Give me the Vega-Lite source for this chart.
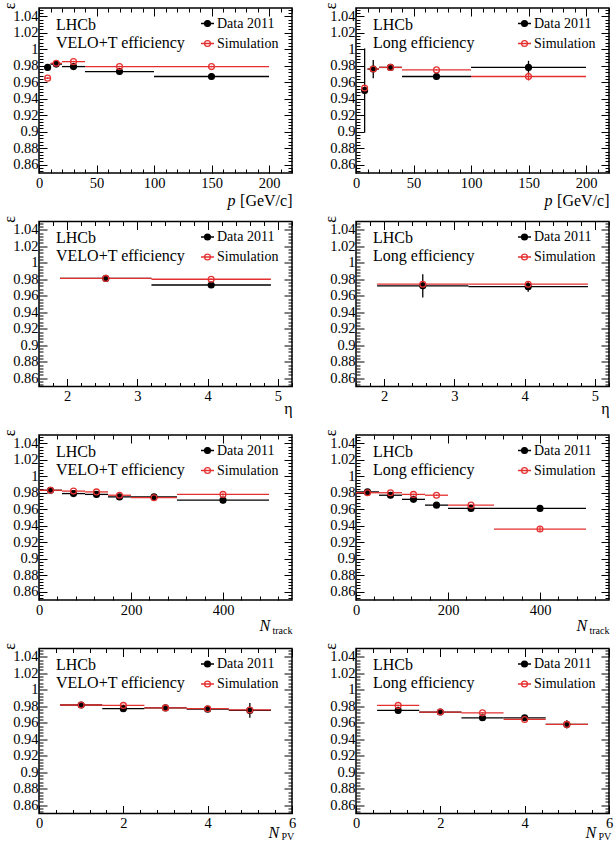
{
  "$schema": "https://vega.github.io/schema/vega-lite/v6.json",
  "padding": {"left": 0, "top": 0, "right": 0, "bottom": 0},
  "background": "white",
  "data": {"values": [
    {"panel": 1, "series": "Data 2011", "x": 7.5, "xlo": 5, "xhi": 10, "y": 0.978, "ylo": 0.976, "yhi": 0.980},
    {"panel": 1, "series": "Data 2011", "x": 15, "xlo": 10, "xhi": 20, "y": 0.982, "ylo": 0.981, "yhi": 0.983},
    {"panel": 1, "series": "Data 2011", "x": 30, "xlo": 20, "xhi": 40, "y": 0.979, "ylo": 0.978, "yhi": 0.980},
    {"panel": 1, "series": "Data 2011", "x": 70, "xlo": 40, "xhi": 100, "y": 0.973, "ylo": 0.972, "yhi": 0.974},
    {"panel": 1, "series": "Data 2011", "x": 150, "xlo": 100, "xhi": 200, "y": 0.967, "ylo": 0.966, "yhi": 0.968},
    {"panel": 1, "series": "Simulation", "x": 7.5, "xlo": 5, "xhi": 10, "y": 0.965, "ylo": 0.964, "yhi": 0.966},
    {"panel": 1, "series": "Simulation", "x": 15, "xlo": 10, "xhi": 20, "y": 0.983, "ylo": 0.982, "yhi": 0.984},
    {"panel": 1, "series": "Simulation", "x": 30, "xlo": 20, "xhi": 40, "y": 0.985, "ylo": 0.984, "yhi": 0.986},
    {"panel": 1, "series": "Simulation", "x": 70, "xlo": 40, "xhi": 100, "y": 0.979, "ylo": 0.978, "yhi": 0.980},
    {"panel": 1, "series": "Simulation", "x": 150, "xlo": 100, "xhi": 200, "y": 0.979, "ylo": 0.978, "yhi": 0.980},

    {"panel": 2, "series": "Data 2011", "x": 7.5, "xlo": 5, "xhi": 10, "y": 0.950, "ylo": 0.899, "yhi": 1.001},
    {"panel": 2, "series": "Data 2011", "x": 15, "xlo": 10, "xhi": 20, "y": 0.976, "ylo": 0.965, "yhi": 0.987},
    {"panel": 2, "series": "Data 2011", "x": 30, "xlo": 20, "xhi": 40, "y": 0.978, "ylo": 0.974, "yhi": 0.982},
    {"panel": 2, "series": "Data 2011", "x": 70, "xlo": 40, "xhi": 100, "y": 0.967, "ylo": 0.966, "yhi": 0.968},
    {"panel": 2, "series": "Data 2011", "x": 150, "xlo": 100, "xhi": 200, "y": 0.978, "ylo": 0.970, "yhi": 0.986},
    {"panel": 2, "series": "Simulation", "x": 7.5, "xlo": 5, "xhi": 10, "y": 0.953, "ylo": 0.950, "yhi": 0.956},
    {"panel": 2, "series": "Simulation", "x": 15, "xlo": 10, "xhi": 20, "y": 0.976, "ylo": 0.974, "yhi": 0.978},
    {"panel": 2, "series": "Simulation", "x": 30, "xlo": 20, "xhi": 40, "y": 0.978, "ylo": 0.976, "yhi": 0.980},
    {"panel": 2, "series": "Simulation", "x": 70, "xlo": 40, "xhi": 100, "y": 0.975, "ylo": 0.974, "yhi": 0.976},
    {"panel": 2, "series": "Simulation", "x": 150, "xlo": 100, "xhi": 200, "y": 0.967, "ylo": 0.962, "yhi": 0.972},

    {"panel": 3, "series": "Data 2011", "x": 2.55, "xlo": 1.9, "xhi": 3.2, "y": 0.981, "ylo": 0.980, "yhi": 0.982},
    {"panel": 3, "series": "Data 2011", "x": 4.05, "xlo": 3.2, "xhi": 4.9, "y": 0.973, "ylo": 0.972, "yhi": 0.974},
    {"panel": 3, "series": "Simulation", "x": 2.55, "xlo": 1.9, "xhi": 3.2, "y": 0.981, "ylo": 0.980, "yhi": 0.982},
    {"panel": 3, "series": "Simulation", "x": 4.05, "xlo": 3.2, "xhi": 4.9, "y": 0.980, "ylo": 0.979, "yhi": 0.981},

    {"panel": 4, "series": "Data 2011", "x": 2.55, "xlo": 1.9, "xhi": 3.2, "y": 0.972, "ylo": 0.958, "yhi": 0.986},
    {"panel": 4, "series": "Data 2011", "x": 4.05, "xlo": 3.2, "xhi": 4.9, "y": 0.971, "ylo": 0.965, "yhi": 0.977},
    {"panel": 4, "series": "Simulation", "x": 2.55, "xlo": 1.9, "xhi": 3.2, "y": 0.974, "ylo": 0.971, "yhi": 0.977},
    {"panel": 4, "series": "Simulation", "x": 4.05, "xlo": 3.2, "xhi": 4.9, "y": 0.974, "ylo": 0.971, "yhi": 0.977},

    {"panel": 5, "series": "Data 2011", "x": 25, "xlo": 0, "xhi": 50, "y": 0.983, "ylo": 0.982, "yhi": 0.984},
    {"panel": 5, "series": "Data 2011", "x": 75, "xlo": 50, "xhi": 100, "y": 0.979, "ylo": 0.978, "yhi": 0.980},
    {"panel": 5, "series": "Data 2011", "x": 125, "xlo": 100, "xhi": 150, "y": 0.978, "ylo": 0.977, "yhi": 0.979},
    {"panel": 5, "series": "Data 2011", "x": 175, "xlo": 150, "xhi": 200, "y": 0.975, "ylo": 0.974, "yhi": 0.976},
    {"panel": 5, "series": "Data 2011", "x": 250, "xlo": 200, "xhi": 300, "y": 0.975, "ylo": 0.974, "yhi": 0.976},
    {"panel": 5, "series": "Data 2011", "x": 400, "xlo": 300, "xhi": 500, "y": 0.971, "ylo": 0.967, "yhi": 0.975},
    {"panel": 5, "series": "Simulation", "x": 25, "xlo": 0, "xhi": 50, "y": 0.983, "ylo": 0.982, "yhi": 0.984},
    {"panel": 5, "series": "Simulation", "x": 75, "xlo": 50, "xhi": 100, "y": 0.982, "ylo": 0.981, "yhi": 0.983},
    {"panel": 5, "series": "Simulation", "x": 125, "xlo": 100, "xhi": 150, "y": 0.981, "ylo": 0.980, "yhi": 0.982},
    {"panel": 5, "series": "Simulation", "x": 175, "xlo": 150, "xhi": 200, "y": 0.977, "ylo": 0.976, "yhi": 0.978},
    {"panel": 5, "series": "Simulation", "x": 250, "xlo": 200, "xhi": 300, "y": 0.974, "ylo": 0.973, "yhi": 0.975},
    {"panel": 5, "series": "Simulation", "x": 400, "xlo": 300, "xhi": 500, "y": 0.978, "ylo": 0.9765, "yhi": 0.9795},

    {"panel": 6, "series": "Data 2011", "x": 25, "xlo": 0, "xhi": 50, "y": 0.981, "ylo": 0.980, "yhi": 0.982},
    {"panel": 6, "series": "Data 2011", "x": 75, "xlo": 50, "xhi": 100, "y": 0.977, "ylo": 0.976, "yhi": 0.978},
    {"panel": 6, "series": "Data 2011", "x": 125, "xlo": 100, "xhi": 150, "y": 0.972, "ylo": 0.971, "yhi": 0.973},
    {"panel": 6, "series": "Data 2011", "x": 175, "xlo": 150, "xhi": 200, "y": 0.965, "ylo": 0.964, "yhi": 0.966},
    {"panel": 6, "series": "Data 2011", "x": 250, "xlo": 200, "xhi": 300, "y": 0.961, "ylo": 0.960, "yhi": 0.962},
    {"panel": 6, "series": "Data 2011", "x": 400, "xlo": 300, "xhi": 500, "y": 0.961, "ylo": 0.960, "yhi": 0.962},
    {"panel": 6, "series": "Simulation", "x": 25, "xlo": 0, "xhi": 50, "y": 0.980, "ylo": 0.979, "yhi": 0.981},
    {"panel": 6, "series": "Simulation", "x": 75, "xlo": 50, "xhi": 100, "y": 0.980, "ylo": 0.979, "yhi": 0.981},
    {"panel": 6, "series": "Simulation", "x": 125, "xlo": 100, "xhi": 150, "y": 0.978, "ylo": 0.977, "yhi": 0.979},
    {"panel": 6, "series": "Simulation", "x": 175, "xlo": 150, "xhi": 200, "y": 0.977, "ylo": 0.976, "yhi": 0.978},
    {"panel": 6, "series": "Simulation", "x": 250, "xlo": 200, "xhi": 300, "y": 0.965, "ylo": 0.964, "yhi": 0.966},
    {"panel": 6, "series": "Simulation", "x": 400, "xlo": 300, "xhi": 500, "y": 0.936, "ylo": 0.933, "yhi": 0.939},

    {"panel": 7, "series": "Data 2011", "x": 1, "xlo": 0.5, "xhi": 1.5, "y": 0.9815, "ylo": 0.9805, "yhi": 0.9825},
    {"panel": 7, "series": "Data 2011", "x": 2, "xlo": 1.5, "xhi": 2.5, "y": 0.977, "ylo": 0.976, "yhi": 0.978},
    {"panel": 7, "series": "Data 2011", "x": 3, "xlo": 2.5, "xhi": 3.5, "y": 0.978, "ylo": 0.977, "yhi": 0.979},
    {"panel": 7, "series": "Data 2011", "x": 4, "xlo": 3.5, "xhi": 4.5, "y": 0.9765, "ylo": 0.9745, "yhi": 0.9785},
    {"panel": 7, "series": "Data 2011", "x": 5, "xlo": 4.5, "xhi": 5.5, "y": 0.975, "ylo": 0.966, "yhi": 0.984},
    {"panel": 7, "series": "Simulation", "x": 1, "xlo": 0.5, "xhi": 1.5, "y": 0.9815, "ylo": 0.9805, "yhi": 0.9825},
    {"panel": 7, "series": "Simulation", "x": 2, "xlo": 1.5, "xhi": 2.5, "y": 0.981, "ylo": 0.980, "yhi": 0.982},
    {"panel": 7, "series": "Simulation", "x": 3, "xlo": 2.5, "xhi": 3.5, "y": 0.978, "ylo": 0.977, "yhi": 0.979},
    {"panel": 7, "series": "Simulation", "x": 4, "xlo": 3.5, "xhi": 4.5, "y": 0.977, "ylo": 0.976, "yhi": 0.978},
    {"panel": 7, "series": "Simulation", "x": 5, "xlo": 4.5, "xhi": 5.5, "y": 0.9755, "ylo": 0.9735, "yhi": 0.9775},

    {"panel": 8, "series": "Data 2011", "x": 1, "xlo": 0.5, "xhi": 1.5, "y": 0.975, "ylo": 0.974, "yhi": 0.976},
    {"panel": 8, "series": "Data 2011", "x": 2, "xlo": 1.5, "xhi": 2.5, "y": 0.973, "ylo": 0.972, "yhi": 0.974},
    {"panel": 8, "series": "Data 2011", "x": 3, "xlo": 2.5, "xhi": 3.5, "y": 0.966, "ylo": 0.965, "yhi": 0.967},
    {"panel": 8, "series": "Data 2011", "x": 4, "xlo": 3.5, "xhi": 4.5, "y": 0.966, "ylo": 0.964, "yhi": 0.968},
    {"panel": 8, "series": "Data 2011", "x": 5, "xlo": 4.5, "xhi": 5.5, "y": 0.958, "ylo": 0.953, "yhi": 0.963},
    {"panel": 8, "series": "Simulation", "x": 1, "xlo": 0.5, "xhi": 1.5, "y": 0.981, "ylo": 0.980, "yhi": 0.982},
    {"panel": 8, "series": "Simulation", "x": 2, "xlo": 1.5, "xhi": 2.5, "y": 0.973, "ylo": 0.972, "yhi": 0.974},
    {"panel": 8, "series": "Simulation", "x": 3, "xlo": 2.5, "xhi": 3.5, "y": 0.972, "ylo": 0.971, "yhi": 0.973},
    {"panel": 8, "series": "Simulation", "x": 4, "xlo": 3.5, "xhi": 4.5, "y": 0.964, "ylo": 0.963, "yhi": 0.965},
    {"panel": 8, "series": "Simulation", "x": 5, "xlo": 4.5, "xhi": 5.5, "y": 0.958, "ylo": 0.955, "yhi": 0.961}
  ]},
  "columns": 2,
  "spacing": {"row": 48.5, "column": 64},
  "bounds": "flush",
  "concat": [
    {
      "width": 253, "height": 165,
      "transform": [{"filter": "datum.panel == 1"}],
      "title": {"text": "LHCb", "subtitle": "VELO+T efficiency"},
      "layer": [
        {"mark": {"type": "rule", "strokeWidth": 1.3},
         "encoding": {
           "x": {"field": "xlo", "type": "quantitative", "scale": {"domain": [0, 220], "nice": false, "zero": false},
                 "axis": {"orient": "bottom", "values": [0,10,20,30,40,50,60,70,80,90,100,110,120,130,140,150,160,170,180,190,200,210,220],
                          "labelExpr": "datum.value % 50 == 0 ? datum.label : ''",
                          "tickSize": {"condition": {"test": "datum.value % 50 == 0", "value": -8}, "value": -4},
                          "labelPadding": 11, "title": "p", "titleFontStyle": "italic", "titleX": 188, "titleY": 32, "titleAlign": "left", "titleBaseline": "alphabetic"}},
           "x2": {"field": "xhi"},
           "y": {"field": "y", "type": "quantitative", "scale": {"domain": [0.85, 1.05], "nice": false, "zero": false},
                 "axis": {"orient": "left", "values": [0.852,0.856,0.86,0.864,0.868,0.872,0.876,0.88,0.884,0.888,0.892,0.896,0.9,0.904,0.908,0.912,0.916,0.92,0.924,0.928,0.932,0.936,0.94,0.944,0.948,0.952,0.956,0.96,0.964,0.968,0.972,0.976,0.98,0.984,0.988,0.992,0.996,1,1.004,1.008,1.012,1.016,1.02,1.024,1.028,1.032,1.036,1.04,1.044,1.048],
                          "labelExpr": "abs(datum.value*50-round(datum.value*50)) < 0.01 ? format(datum.value, '.2~f') : ''",
                          "tickSize": {"condition": {"test": "abs(datum.value*50-round(datum.value*50)) < 0.01", "value": -8}, "value": -4},
                          "labelPadding": 9, "title": "ε", "titleAngle": 270, "titleX": -38, "titleY": -6, "titleAlign": "right", "titleBaseline": "top"}},
           "color": {"condition": {"test": "datum.series === 'Simulation'", "value": "#e53030"}, "value": "black"}
         }},
        {"mark": {"type": "rule", "strokeWidth": 1.3},
         "encoding": {
           "x": {"field": "x", "type": "quantitative", "axis": null},
           "y": {"field": "ylo", "type": "quantitative", "axis": null},
           "y2": {"field": "yhi"},
           "color": {"condition": {"test": "datum.series === 'Simulation'", "value": "#e53030"}, "value": "black"}
         }},
        {"mark": {"type": "point", "filled": true, "opacity": 1, "size": 34, "strokeWidth": 1.3},
         "encoding": {
           "x": {"field": "x", "type": "quantitative",
                 "axis": {"orient": "top", "labels": false, "values": [0,10,20,30,40,50,60,70,80,90,100,110,120,130,140,150,160,170,180,190,200,210,220],
                          "tickSize": {"condition": {"test": "datum.value % 50 == 0", "value": -8}, "value": -4},
                          "title": "[GeV/c]", "titleX": 253, "titleY": 197, "titleAlign": "right", "titleBaseline": "alphabetic"}},
           "y": {"field": "y", "type": "quantitative",
                 "axis": {"orient": "right", "labels": false, "title": null, "values": [0.852,0.856,0.86,0.864,0.868,0.872,0.876,0.88,0.884,0.888,0.892,0.896,0.9,0.904,0.908,0.912,0.916,0.92,0.924,0.928,0.932,0.936,0.94,0.944,0.948,0.952,0.956,0.96,0.964,0.968,0.972,0.976,0.98,0.984,0.988,0.992,0.996,1,1.004,1.008,1.012,1.016,1.02,1.024,1.028,1.032,1.036,1.04,1.044,1.048],
                          "tickSize": {"condition": {"test": "abs(datum.value*50-round(datum.value*50)) < 0.01", "value": -8}, "value": -4}}},
           "fill": {"field": "series", "type": "nominal", "scale": {"domain": ["Data 2011", "Simulation"], "range": ["black", "transparent"]},
                    "legend": {"title": null, "orient": "none", "legendX": 161, "legendY": 8}},
           "stroke": {"field": "series", "type": "nominal", "scale": {"domain": ["Data 2011", "Simulation"], "range": ["black", "#e53030"]},
                      "legend": {"title": null, "orient": "none", "legendX": 161, "legendY": 8}}
         }}
      ],
      "resolve": {"axis": {"x": "independent", "y": "independent"}}
    },
    {
      "width": 253, "height": 165,
      "transform": [{"filter": "datum.panel == 2"}],
      "title": {"text": "LHCb", "subtitle": "Long efficiency"},
      "layer": [
        {"mark": {"type": "rule", "strokeWidth": 1.3},
         "encoding": {
           "x": {"field": "xlo", "type": "quantitative", "scale": {"domain": [0, 220], "nice": false, "zero": false},
                 "axis": {"orient": "bottom", "values": [0,10,20,30,40,50,60,70,80,90,100,110,120,130,140,150,160,170,180,190,200,210,220],
                          "labelExpr": "datum.value % 50 == 0 ? datum.label : ''",
                          "tickSize": {"condition": {"test": "datum.value % 50 == 0", "value": -8}, "value": -4},
                          "labelPadding": 11, "title": "p", "titleFontStyle": "italic", "titleX": 188, "titleY": 32, "titleAlign": "left", "titleBaseline": "alphabetic"}},
           "x2": {"field": "xhi"},
           "y": {"field": "y", "type": "quantitative", "scale": {"domain": [0.85, 1.05], "nice": false, "zero": false},
                 "axis": {"orient": "left", "values": [0.852,0.856,0.86,0.864,0.868,0.872,0.876,0.88,0.884,0.888,0.892,0.896,0.9,0.904,0.908,0.912,0.916,0.92,0.924,0.928,0.932,0.936,0.94,0.944,0.948,0.952,0.956,0.96,0.964,0.968,0.972,0.976,0.98,0.984,0.988,0.992,0.996,1,1.004,1.008,1.012,1.016,1.02,1.024,1.028,1.032,1.036,1.04,1.044,1.048],
                          "labelExpr": "abs(datum.value*50-round(datum.value*50)) < 0.01 ? format(datum.value, '.2~f') : ''",
                          "tickSize": {"condition": {"test": "abs(datum.value*50-round(datum.value*50)) < 0.01", "value": -8}, "value": -4},
                          "labelPadding": 9, "title": "ε", "titleAngle": 270, "titleX": -34, "titleY": -6, "titleAlign": "right", "titleBaseline": "top"}},
           "color": {"condition": {"test": "datum.series === 'Simulation'", "value": "#e53030"}, "value": "black"}
         }},
        {"mark": {"type": "rule", "strokeWidth": 1.3},
         "encoding": {
           "x": {"field": "x", "type": "quantitative", "axis": null},
           "y": {"field": "ylo", "type": "quantitative", "axis": null},
           "y2": {"field": "yhi"},
           "color": {"condition": {"test": "datum.series === 'Simulation'", "value": "#e53030"}, "value": "black"}
         }},
        {"mark": {"type": "point", "filled": true, "opacity": 1, "size": 34, "strokeWidth": 1.3},
         "encoding": {
           "x": {"field": "x", "type": "quantitative",
                 "axis": {"orient": "top", "labels": false, "values": [0,10,20,30,40,50,60,70,80,90,100,110,120,130,140,150,160,170,180,190,200,210,220],
                          "tickSize": {"condition": {"test": "datum.value % 50 == 0", "value": -8}, "value": -4},
                          "title": "[GeV/c]", "titleX": 253, "titleY": 197, "titleAlign": "right", "titleBaseline": "alphabetic"}},
           "y": {"field": "y", "type": "quantitative",
                 "axis": {"orient": "right", "labels": false, "title": null, "values": [0.852,0.856,0.86,0.864,0.868,0.872,0.876,0.88,0.884,0.888,0.892,0.896,0.9,0.904,0.908,0.912,0.916,0.92,0.924,0.928,0.932,0.936,0.94,0.944,0.948,0.952,0.956,0.96,0.964,0.968,0.972,0.976,0.98,0.984,0.988,0.992,0.996,1,1.004,1.008,1.012,1.016,1.02,1.024,1.028,1.032,1.036,1.04,1.044,1.048],
                          "tickSize": {"condition": {"test": "abs(datum.value*50-round(datum.value*50)) < 0.01", "value": -8}, "value": -4}}},
           "fill": {"field": "series", "type": "nominal", "scale": {"domain": ["Data 2011", "Simulation"], "range": ["black", "transparent"]},
                    "legend": {"title": null, "orient": "none", "legendX": 161, "legendY": 8}},
           "stroke": {"field": "series", "type": "nominal", "scale": {"domain": ["Data 2011", "Simulation"], "range": ["black", "#e53030"]},
                      "legend": {"title": null, "orient": "none", "legendX": 161, "legendY": 8}}
         }}
      ],
      "resolve": {"axis": {"x": "independent", "y": "independent"}}
    },
    {
      "width": 253, "height": 165,
      "transform": [{"filter": "datum.panel == 3"}],
      "title": {"text": "LHCb", "subtitle": "VELO+T efficiency"},
      "layer": [
        {"mark": {"type": "rule", "strokeWidth": 1.3},
         "encoding": {
           "x": {"field": "xlo", "type": "quantitative", "scale": {"domain": [1.6, 5.2], "nice": false, "zero": false},
                 "axis": {"orient": "bottom", "values": [1.6,1.8,2,2.2,2.4,2.6,2.8,3,3.2,3.4,3.6,3.8,4,4.2,4.4,4.6,4.8,5,5.2],
                          "labelExpr": "abs(datum.value-round(datum.value)) < 0.01 ? '' + round(datum.value) : ''",
                          "tickSize": {"condition": {"test": "abs(datum.value-round(datum.value)) < 0.01", "value": -8}, "value": -4},
                          "labelPadding": 11, "title": "η", "titleX": 253, "titleY": 27, "titleAlign": "right", "titleBaseline": "alphabetic"}},
           "x2": {"field": "xhi"},
           "y": {"field": "y", "type": "quantitative", "scale": {"domain": [0.85, 1.05], "nice": false, "zero": false},
                 "axis": {"orient": "left", "values": [0.852,0.856,0.86,0.864,0.868,0.872,0.876,0.88,0.884,0.888,0.892,0.896,0.9,0.904,0.908,0.912,0.916,0.92,0.924,0.928,0.932,0.936,0.94,0.944,0.948,0.952,0.956,0.96,0.964,0.968,0.972,0.976,0.98,0.984,0.988,0.992,0.996,1,1.004,1.008,1.012,1.016,1.02,1.024,1.028,1.032,1.036,1.04,1.044,1.048],
                          "labelExpr": "abs(datum.value*50-round(datum.value*50)) < 0.01 ? format(datum.value, '.2~f') : ''",
                          "tickSize": {"condition": {"test": "abs(datum.value*50-round(datum.value*50)) < 0.01", "value": -8}, "value": -4},
                          "labelPadding": 9, "title": "ε", "titleAngle": 270, "titleX": -38, "titleY": -6, "titleAlign": "right", "titleBaseline": "top"}},
           "color": {"condition": {"test": "datum.series === 'Simulation'", "value": "#e53030"}, "value": "black"}
         }},
        {"mark": {"type": "rule", "strokeWidth": 1.3},
         "encoding": {
           "x": {"field": "x", "type": "quantitative", "axis": null},
           "y": {"field": "ylo", "type": "quantitative", "axis": null},
           "y2": {"field": "yhi"},
           "color": {"condition": {"test": "datum.series === 'Simulation'", "value": "#e53030"}, "value": "black"}
         }},
        {"mark": {"type": "point", "filled": true, "opacity": 1, "size": 34, "strokeWidth": 1.3},
         "encoding": {
           "x": {"field": "x", "type": "quantitative",
                 "axis": {"orient": "top", "labels": false, "title": null, "values": [1.6,1.8,2,2.2,2.4,2.6,2.8,3,3.2,3.4,3.6,3.8,4,4.2,4.4,4.6,4.8,5,5.2],
                          "tickSize": {"condition": {"test": "abs(datum.value-round(datum.value)) < 0.01", "value": -8}, "value": -4}}},
           "y": {"field": "y", "type": "quantitative",
                 "axis": {"orient": "right", "labels": false, "title": null, "values": [0.852,0.856,0.86,0.864,0.868,0.872,0.876,0.88,0.884,0.888,0.892,0.896,0.9,0.904,0.908,0.912,0.916,0.92,0.924,0.928,0.932,0.936,0.94,0.944,0.948,0.952,0.956,0.96,0.964,0.968,0.972,0.976,0.98,0.984,0.988,0.992,0.996,1,1.004,1.008,1.012,1.016,1.02,1.024,1.028,1.032,1.036,1.04,1.044,1.048],
                          "tickSize": {"condition": {"test": "abs(datum.value*50-round(datum.value*50)) < 0.01", "value": -8}, "value": -4}}},
           "fill": {"field": "series", "type": "nominal", "scale": {"domain": ["Data 2011", "Simulation"], "range": ["black", "transparent"]},
                    "legend": {"title": null, "orient": "none", "legendX": 161, "legendY": 8}},
           "stroke": {"field": "series", "type": "nominal", "scale": {"domain": ["Data 2011", "Simulation"], "range": ["black", "#e53030"]},
                      "legend": {"title": null, "orient": "none", "legendX": 161, "legendY": 8}}
         }}
      ],
      "resolve": {"axis": {"x": "independent", "y": "independent"}}
    },
    {
      "width": 253, "height": 165,
      "transform": [{"filter": "datum.panel == 4"}],
      "title": {"text": "LHCb", "subtitle": "Long efficiency"},
      "layer": [
        {"mark": {"type": "rule", "strokeWidth": 1.3},
         "encoding": {
           "x": {"field": "xlo", "type": "quantitative", "scale": {"domain": [1.6, 5.2], "nice": false, "zero": false},
                 "axis": {"orient": "bottom", "values": [1.6,1.8,2,2.2,2.4,2.6,2.8,3,3.2,3.4,3.6,3.8,4,4.2,4.4,4.6,4.8,5,5.2],
                          "labelExpr": "abs(datum.value-round(datum.value)) < 0.01 ? '' + round(datum.value) : ''",
                          "tickSize": {"condition": {"test": "abs(datum.value-round(datum.value)) < 0.01", "value": -8}, "value": -4},
                          "labelPadding": 11, "title": "η", "titleX": 253, "titleY": 27, "titleAlign": "right", "titleBaseline": "alphabetic"}},
           "x2": {"field": "xhi"},
           "y": {"field": "y", "type": "quantitative", "scale": {"domain": [0.85, 1.05], "nice": false, "zero": false},
                 "axis": {"orient": "left", "values": [0.852,0.856,0.86,0.864,0.868,0.872,0.876,0.88,0.884,0.888,0.892,0.896,0.9,0.904,0.908,0.912,0.916,0.92,0.924,0.928,0.932,0.936,0.94,0.944,0.948,0.952,0.956,0.96,0.964,0.968,0.972,0.976,0.98,0.984,0.988,0.992,0.996,1,1.004,1.008,1.012,1.016,1.02,1.024,1.028,1.032,1.036,1.04,1.044,1.048],
                          "labelExpr": "abs(datum.value*50-round(datum.value*50)) < 0.01 ? format(datum.value, '.2~f') : ''",
                          "tickSize": {"condition": {"test": "abs(datum.value*50-round(datum.value*50)) < 0.01", "value": -8}, "value": -4},
                          "labelPadding": 9, "title": "ε", "titleAngle": 270, "titleX": -34, "titleY": -6, "titleAlign": "right", "titleBaseline": "top"}},
           "color": {"condition": {"test": "datum.series === 'Simulation'", "value": "#e53030"}, "value": "black"}
         }},
        {"mark": {"type": "rule", "strokeWidth": 1.3},
         "encoding": {
           "x": {"field": "x", "type": "quantitative", "axis": null},
           "y": {"field": "ylo", "type": "quantitative", "axis": null},
           "y2": {"field": "yhi"},
           "color": {"condition": {"test": "datum.series === 'Simulation'", "value": "#e53030"}, "value": "black"}
         }},
        {"mark": {"type": "point", "filled": true, "opacity": 1, "size": 34, "strokeWidth": 1.3},
         "encoding": {
           "x": {"field": "x", "type": "quantitative",
                 "axis": {"orient": "top", "labels": false, "title": null, "values": [1.6,1.8,2,2.2,2.4,2.6,2.8,3,3.2,3.4,3.6,3.8,4,4.2,4.4,4.6,4.8,5,5.2],
                          "tickSize": {"condition": {"test": "abs(datum.value-round(datum.value)) < 0.01", "value": -8}, "value": -4}}},
           "y": {"field": "y", "type": "quantitative",
                 "axis": {"orient": "right", "labels": false, "title": null, "values": [0.852,0.856,0.86,0.864,0.868,0.872,0.876,0.88,0.884,0.888,0.892,0.896,0.9,0.904,0.908,0.912,0.916,0.92,0.924,0.928,0.932,0.936,0.94,0.944,0.948,0.952,0.956,0.96,0.964,0.968,0.972,0.976,0.98,0.984,0.988,0.992,0.996,1,1.004,1.008,1.012,1.016,1.02,1.024,1.028,1.032,1.036,1.04,1.044,1.048],
                          "tickSize": {"condition": {"test": "abs(datum.value*50-round(datum.value*50)) < 0.01", "value": -8}, "value": -4}}},
           "fill": {"field": "series", "type": "nominal", "scale": {"domain": ["Data 2011", "Simulation"], "range": ["black", "transparent"]},
                    "legend": {"title": null, "orient": "none", "legendX": 161, "legendY": 8}},
           "stroke": {"field": "series", "type": "nominal", "scale": {"domain": ["Data 2011", "Simulation"], "range": ["black", "#e53030"]},
                      "legend": {"title": null, "orient": "none", "legendX": 161, "legendY": 8}}
         }}
      ],
      "resolve": {"axis": {"x": "independent", "y": "independent"}}
    },
    {
      "width": 253, "height": 165,
      "transform": [{"filter": "datum.panel == 5"}],
      "title": {"text": "LHCb", "subtitle": "VELO+T efficiency"},
      "layer": [
        {"mark": {"type": "rule", "strokeWidth": 1.3},
         "encoding": {
           "x": {"field": "xlo", "type": "quantitative", "scale": {"domain": [0, 550], "nice": false, "zero": false},
                 "axis": {"orient": "bottom", "values": [0,40,80,120,160,200,240,280,320,360,400,440,480,520],
                          "labelExpr": "datum.value % 200 == 0 ? datum.label : ''",
                          "tickSize": {"condition": {"test": "datum.value % 200 == 0", "value": -8}, "value": -4},
                          "labelPadding": 11, "title": "N", "titleFontStyle": "italic", "titleX": 220, "titleY": 30, "titleAlign": "left", "titleBaseline": "alphabetic"}},
           "x2": {"field": "xhi"},
           "y": {"field": "y", "type": "quantitative", "scale": {"domain": [0.85, 1.05], "nice": false, "zero": false},
                 "axis": {"orient": "left", "values": [0.852,0.856,0.86,0.864,0.868,0.872,0.876,0.88,0.884,0.888,0.892,0.896,0.9,0.904,0.908,0.912,0.916,0.92,0.924,0.928,0.932,0.936,0.94,0.944,0.948,0.952,0.956,0.96,0.964,0.968,0.972,0.976,0.98,0.984,0.988,0.992,0.996,1,1.004,1.008,1.012,1.016,1.02,1.024,1.028,1.032,1.036,1.04,1.044,1.048],
                          "labelExpr": "abs(datum.value*50-round(datum.value*50)) < 0.01 ? format(datum.value, '.2~f') : ''",
                          "tickSize": {"condition": {"test": "abs(datum.value*50-round(datum.value*50)) < 0.01", "value": -8}, "value": -4},
                          "labelPadding": 9, "title": "ε", "titleAngle": 270, "titleX": -38, "titleY": -6, "titleAlign": "right", "titleBaseline": "top"}},
           "color": {"condition": {"test": "datum.series === 'Simulation'", "value": "#e53030"}, "value": "black"}
         }},
        {"mark": {"type": "rule", "strokeWidth": 1.3},
         "encoding": {
           "x": {"field": "x", "type": "quantitative", "axis": null},
           "y": {"field": "ylo", "type": "quantitative", "axis": null},
           "y2": {"field": "yhi"},
           "color": {"condition": {"test": "datum.series === 'Simulation'", "value": "#e53030"}, "value": "black"}
         }},
        {"mark": {"type": "point", "filled": true, "opacity": 1, "size": 34, "strokeWidth": 1.3},
         "encoding": {
           "x": {"field": "x", "type": "quantitative",
                 "axis": {"orient": "top", "labels": false, "values": [0,40,80,120,160,200,240,280,320,360,400,440,480,520],
                          "tickSize": {"condition": {"test": "datum.value % 200 == 0", "value": -8}, "value": -4},
                          "title": "track", "titleFontSize": 10, "titleX": 233, "titleY": 198, "titleAlign": "left", "titleBaseline": "alphabetic"}},
           "y": {"field": "y", "type": "quantitative",
                 "axis": {"orient": "right", "labels": false, "title": null, "values": [0.852,0.856,0.86,0.864,0.868,0.872,0.876,0.88,0.884,0.888,0.892,0.896,0.9,0.904,0.908,0.912,0.916,0.92,0.924,0.928,0.932,0.936,0.94,0.944,0.948,0.952,0.956,0.96,0.964,0.968,0.972,0.976,0.98,0.984,0.988,0.992,0.996,1,1.004,1.008,1.012,1.016,1.02,1.024,1.028,1.032,1.036,1.04,1.044,1.048],
                          "tickSize": {"condition": {"test": "abs(datum.value*50-round(datum.value*50)) < 0.01", "value": -8}, "value": -4}}},
           "fill": {"field": "series", "type": "nominal", "scale": {"domain": ["Data 2011", "Simulation"], "range": ["black", "transparent"]},
                    "legend": {"title": null, "orient": "none", "legendX": 161, "legendY": 8}},
           "stroke": {"field": "series", "type": "nominal", "scale": {"domain": ["Data 2011", "Simulation"], "range": ["black", "#e53030"]},
                      "legend": {"title": null, "orient": "none", "legendX": 161, "legendY": 8}}
         }}
      ],
      "resolve": {"axis": {"x": "independent", "y": "independent"}}
    },
    {
      "width": 253, "height": 165,
      "transform": [{"filter": "datum.panel == 6"}],
      "title": {"text": "LHCb", "subtitle": "Long efficiency"},
      "layer": [
        {"mark": {"type": "rule", "strokeWidth": 1.3},
         "encoding": {
           "x": {"field": "xlo", "type": "quantitative", "scale": {"domain": [0, 550], "nice": false, "zero": false},
                 "axis": {"orient": "bottom", "values": [0,40,80,120,160,200,240,280,320,360,400,440,480,520],
                          "labelExpr": "datum.value % 200 == 0 ? datum.label : ''",
                          "tickSize": {"condition": {"test": "datum.value % 200 == 0", "value": -8}, "value": -4},
                          "labelPadding": 11, "title": "N", "titleFontStyle": "italic", "titleX": 220, "titleY": 30, "titleAlign": "left", "titleBaseline": "alphabetic"}},
           "x2": {"field": "xhi"},
           "y": {"field": "y", "type": "quantitative", "scale": {"domain": [0.85, 1.05], "nice": false, "zero": false},
                 "axis": {"orient": "left", "values": [0.852,0.856,0.86,0.864,0.868,0.872,0.876,0.88,0.884,0.888,0.892,0.896,0.9,0.904,0.908,0.912,0.916,0.92,0.924,0.928,0.932,0.936,0.94,0.944,0.948,0.952,0.956,0.96,0.964,0.968,0.972,0.976,0.98,0.984,0.988,0.992,0.996,1,1.004,1.008,1.012,1.016,1.02,1.024,1.028,1.032,1.036,1.04,1.044,1.048],
                          "labelExpr": "abs(datum.value*50-round(datum.value*50)) < 0.01 ? format(datum.value, '.2~f') : ''",
                          "tickSize": {"condition": {"test": "abs(datum.value*50-round(datum.value*50)) < 0.01", "value": -8}, "value": -4},
                          "labelPadding": 9, "title": "ε", "titleAngle": 270, "titleX": -34, "titleY": -6, "titleAlign": "right", "titleBaseline": "top"}},
           "color": {"condition": {"test": "datum.series === 'Simulation'", "value": "#e53030"}, "value": "black"}
         }},
        {"mark": {"type": "rule", "strokeWidth": 1.3},
         "encoding": {
           "x": {"field": "x", "type": "quantitative", "axis": null},
           "y": {"field": "ylo", "type": "quantitative", "axis": null},
           "y2": {"field": "yhi"},
           "color": {"condition": {"test": "datum.series === 'Simulation'", "value": "#e53030"}, "value": "black"}
         }},
        {"mark": {"type": "point", "filled": true, "opacity": 1, "size": 34, "strokeWidth": 1.3},
         "encoding": {
           "x": {"field": "x", "type": "quantitative",
                 "axis": {"orient": "top", "labels": false, "values": [0,40,80,120,160,200,240,280,320,360,400,440,480,520],
                          "tickSize": {"condition": {"test": "datum.value % 200 == 0", "value": -8}, "value": -4},
                          "title": "track", "titleFontSize": 10, "titleX": 233, "titleY": 198, "titleAlign": "left", "titleBaseline": "alphabetic"}},
           "y": {"field": "y", "type": "quantitative",
                 "axis": {"orient": "right", "labels": false, "title": null, "values": [0.852,0.856,0.86,0.864,0.868,0.872,0.876,0.88,0.884,0.888,0.892,0.896,0.9,0.904,0.908,0.912,0.916,0.92,0.924,0.928,0.932,0.936,0.94,0.944,0.948,0.952,0.956,0.96,0.964,0.968,0.972,0.976,0.98,0.984,0.988,0.992,0.996,1,1.004,1.008,1.012,1.016,1.02,1.024,1.028,1.032,1.036,1.04,1.044,1.048],
                          "tickSize": {"condition": {"test": "abs(datum.value*50-round(datum.value*50)) < 0.01", "value": -8}, "value": -4}}},
           "fill": {"field": "series", "type": "nominal", "scale": {"domain": ["Data 2011", "Simulation"], "range": ["black", "transparent"]},
                    "legend": {"title": null, "orient": "none", "legendX": 161, "legendY": 8}},
           "stroke": {"field": "series", "type": "nominal", "scale": {"domain": ["Data 2011", "Simulation"], "range": ["black", "#e53030"]},
                      "legend": {"title": null, "orient": "none", "legendX": 161, "legendY": 8}}
         }}
      ],
      "resolve": {"axis": {"x": "independent", "y": "independent"}}
    },
    {
      "width": 253, "height": 165,
      "transform": [{"filter": "datum.panel == 7"}],
      "title": {"text": "LHCb", "subtitle": "VELO+T efficiency"},
      "layer": [
        {"mark": {"type": "rule", "strokeWidth": 1.3},
         "encoding": {
           "x": {"field": "xlo", "type": "quantitative", "scale": {"domain": [0, 6], "nice": false, "zero": false},
                 "axis": {"orient": "bottom", "values": [0,0.4,0.8,1.2,1.6,2,2.4,2.8,3.2,3.6,4,4.4,4.8,5.2,5.6,6],
                          "labelExpr": "abs(datum.value/2-round(datum.value/2)) < 0.01 ? '' + round(datum.value) : ''",
                          "tickSize": {"condition": {"test": "abs(datum.value/2-round(datum.value/2)) < 0.01", "value": -8}, "value": -4},
                          "labelPadding": 11, "title": "N", "titleFontStyle": "italic", "titleX": 229, "titleY": 24, "titleAlign": "left", "titleBaseline": "alphabetic"}},
           "x2": {"field": "xhi"},
           "y": {"field": "y", "type": "quantitative", "scale": {"domain": [0.85, 1.05], "nice": false, "zero": false},
                 "axis": {"orient": "left", "values": [0.852,0.856,0.86,0.864,0.868,0.872,0.876,0.88,0.884,0.888,0.892,0.896,0.9,0.904,0.908,0.912,0.916,0.92,0.924,0.928,0.932,0.936,0.94,0.944,0.948,0.952,0.956,0.96,0.964,0.968,0.972,0.976,0.98,0.984,0.988,0.992,0.996,1,1.004,1.008,1.012,1.016,1.02,1.024,1.028,1.032,1.036,1.04,1.044,1.048],
                          "labelExpr": "abs(datum.value*50-round(datum.value*50)) < 0.01 ? format(datum.value, '.2~f') : ''",
                          "tickSize": {"condition": {"test": "abs(datum.value*50-round(datum.value*50)) < 0.01", "value": -8}, "value": -4},
                          "labelPadding": 9, "title": "ε", "titleAngle": 270, "titleX": -38, "titleY": -6, "titleAlign": "right", "titleBaseline": "top"}},
           "color": {"condition": {"test": "datum.series === 'Simulation'", "value": "#e53030"}, "value": "black"}
         }},
        {"mark": {"type": "rule", "strokeWidth": 1.3},
         "encoding": {
           "x": {"field": "x", "type": "quantitative", "axis": null},
           "y": {"field": "ylo", "type": "quantitative", "axis": null},
           "y2": {"field": "yhi"},
           "color": {"condition": {"test": "datum.series === 'Simulation'", "value": "#e53030"}, "value": "black"}
         }},
        {"mark": {"type": "point", "filled": true, "opacity": 1, "size": 34, "strokeWidth": 1.3},
         "encoding": {
           "x": {"field": "x", "type": "quantitative",
                 "axis": {"orient": "top", "labels": false, "values": [0,0.4,0.8,1.2,1.6,2,2.4,2.8,3.2,3.6,4,4.4,4.8,5.2,5.6,6],
                          "tickSize": {"condition": {"test": "abs(datum.value/2-round(datum.value/2)) < 0.01", "value": -8}, "value": -4},
                          "title": "PV", "titleFontSize": 10, "titleX": 242, "titleY": 191, "titleAlign": "left", "titleBaseline": "alphabetic"}},
           "y": {"field": "y", "type": "quantitative",
                 "axis": {"orient": "right", "labels": false, "title": null, "values": [0.852,0.856,0.86,0.864,0.868,0.872,0.876,0.88,0.884,0.888,0.892,0.896,0.9,0.904,0.908,0.912,0.916,0.92,0.924,0.928,0.932,0.936,0.94,0.944,0.948,0.952,0.956,0.96,0.964,0.968,0.972,0.976,0.98,0.984,0.988,0.992,0.996,1,1.004,1.008,1.012,1.016,1.02,1.024,1.028,1.032,1.036,1.04,1.044,1.048],
                          "tickSize": {"condition": {"test": "abs(datum.value*50-round(datum.value*50)) < 0.01", "value": -8}, "value": -4}}},
           "fill": {"field": "series", "type": "nominal", "scale": {"domain": ["Data 2011", "Simulation"], "range": ["black", "transparent"]},
                    "legend": {"title": null, "orient": "none", "legendX": 161, "legendY": 8}},
           "stroke": {"field": "series", "type": "nominal", "scale": {"domain": ["Data 2011", "Simulation"], "range": ["black", "#e53030"]},
                      "legend": {"title": null, "orient": "none", "legendX": 161, "legendY": 8}}
         }}
      ],
      "resolve": {"axis": {"x": "independent", "y": "independent"}}
    },
    {
      "width": 253, "height": 165,
      "transform": [{"filter": "datum.panel == 8"}],
      "title": {"text": "LHCb", "subtitle": "Long efficiency"},
      "layer": [
        {"mark": {"type": "rule", "strokeWidth": 1.3},
         "encoding": {
           "x": {"field": "xlo", "type": "quantitative", "scale": {"domain": [0, 6], "nice": false, "zero": false},
                 "axis": {"orient": "bottom", "values": [0,0.4,0.8,1.2,1.6,2,2.4,2.8,3.2,3.6,4,4.4,4.8,5.2,5.6,6],
                          "labelExpr": "abs(datum.value/2-round(datum.value/2)) < 0.01 ? '' + round(datum.value) : ''",
                          "tickSize": {"condition": {"test": "abs(datum.value/2-round(datum.value/2)) < 0.01", "value": -8}, "value": -4},
                          "labelPadding": 11, "title": "N", "titleFontStyle": "italic", "titleX": 229, "titleY": 24, "titleAlign": "left", "titleBaseline": "alphabetic"}},
           "x2": {"field": "xhi"},
           "y": {"field": "y", "type": "quantitative", "scale": {"domain": [0.85, 1.05], "nice": false, "zero": false},
                 "axis": {"orient": "left", "values": [0.852,0.856,0.86,0.864,0.868,0.872,0.876,0.88,0.884,0.888,0.892,0.896,0.9,0.904,0.908,0.912,0.916,0.92,0.924,0.928,0.932,0.936,0.94,0.944,0.948,0.952,0.956,0.96,0.964,0.968,0.972,0.976,0.98,0.984,0.988,0.992,0.996,1,1.004,1.008,1.012,1.016,1.02,1.024,1.028,1.032,1.036,1.04,1.044,1.048],
                          "labelExpr": "abs(datum.value*50-round(datum.value*50)) < 0.01 ? format(datum.value, '.2~f') : ''",
                          "tickSize": {"condition": {"test": "abs(datum.value*50-round(datum.value*50)) < 0.01", "value": -8}, "value": -4},
                          "labelPadding": 9, "title": "ε", "titleAngle": 270, "titleX": -34, "titleY": -6, "titleAlign": "right", "titleBaseline": "top"}},
           "color": {"condition": {"test": "datum.series === 'Simulation'", "value": "#e53030"}, "value": "black"}
         }},
        {"mark": {"type": "rule", "strokeWidth": 1.3},
         "encoding": {
           "x": {"field": "x", "type": "quantitative", "axis": null},
           "y": {"field": "ylo", "type": "quantitative", "axis": null},
           "y2": {"field": "yhi"},
           "color": {"condition": {"test": "datum.series === 'Simulation'", "value": "#e53030"}, "value": "black"}
         }},
        {"mark": {"type": "point", "filled": true, "opacity": 1, "size": 34, "strokeWidth": 1.3},
         "encoding": {
           "x": {"field": "x", "type": "quantitative",
                 "axis": {"orient": "top", "labels": false, "values": [0,0.4,0.8,1.2,1.6,2,2.4,2.8,3.2,3.6,4,4.4,4.8,5.2,5.6,6],
                          "tickSize": {"condition": {"test": "abs(datum.value/2-round(datum.value/2)) < 0.01", "value": -8}, "value": -4},
                          "title": "PV", "titleFontSize": 10, "titleX": 242, "titleY": 191, "titleAlign": "left", "titleBaseline": "alphabetic"}},
           "y": {"field": "y", "type": "quantitative",
                 "axis": {"orient": "right", "labels": false, "title": null, "values": [0.852,0.856,0.86,0.864,0.868,0.872,0.876,0.88,0.884,0.888,0.892,0.896,0.9,0.904,0.908,0.912,0.916,0.92,0.924,0.928,0.932,0.936,0.94,0.944,0.948,0.952,0.956,0.96,0.964,0.968,0.972,0.976,0.98,0.984,0.988,0.992,0.996,1,1.004,1.008,1.012,1.016,1.02,1.024,1.028,1.032,1.036,1.04,1.044,1.048],
                          "tickSize": {"condition": {"test": "abs(datum.value*50-round(datum.value*50)) < 0.01", "value": -8}, "value": -4}}},
           "fill": {"field": "series", "type": "nominal", "scale": {"domain": ["Data 2011", "Simulation"], "range": ["black", "transparent"]},
                    "legend": {"title": null, "orient": "none", "legendX": 161, "legendY": 8}},
           "stroke": {"field": "series", "type": "nominal", "scale": {"domain": ["Data 2011", "Simulation"], "range": ["black", "#e53030"]},
                      "legend": {"title": null, "orient": "none", "legendX": 161, "legendY": 8}}
         }}
      ],
      "resolve": {"axis": {"x": "independent", "y": "independent"}}
    }
  ],
  "resolve": {"scale": {"fill": "independent", "stroke": "independent"},
              "legend": {"fill": "independent", "stroke": "independent"}},
  "config": {
    "font": "Liberation Serif",
    "view": {"stroke": "black", "strokeWidth": 1.5},
    "axis": {"domain": false, "grid": false, "labelFont": "Liberation Serif", "labelFontSize": 14.5, "labelColor": "black",
             "tickColor": "black", "tickWidth": 1, "labelFlush": false, "labelOverlap": false, "labelBound": false,
             "titleFont": "Liberation Serif", "titleFontSize": 16, "titleFontWeight": "normal", "titleColor": "black"},
    "legend": {"symbolType": "M-1,0H1M0.45,0A0.45,0.45,0,1,1,-0.45,0A0.45,0.45,0,1,1,0.45,0Z", "symbolSize": 169,
               "symbolStrokeWidth": 1.3, "labelFont": "Liberation Serif", "labelFontSize": 14, "labelColor": "black",
               "labelOffset": 2, "rowPadding": 5, "padding": 0},
    "title": {"anchor": "start", "frame": "group", "orient": "top", "offset": -49, "dx": 17,
              "font": "Liberation Serif", "fontSize": 16, "fontWeight": "normal", "color": "black",
              "subtitleFont": "Liberation Serif", "subtitleFontSize": 16, "subtitleColor": "black", "subtitlePadding": 2}
  }
}
